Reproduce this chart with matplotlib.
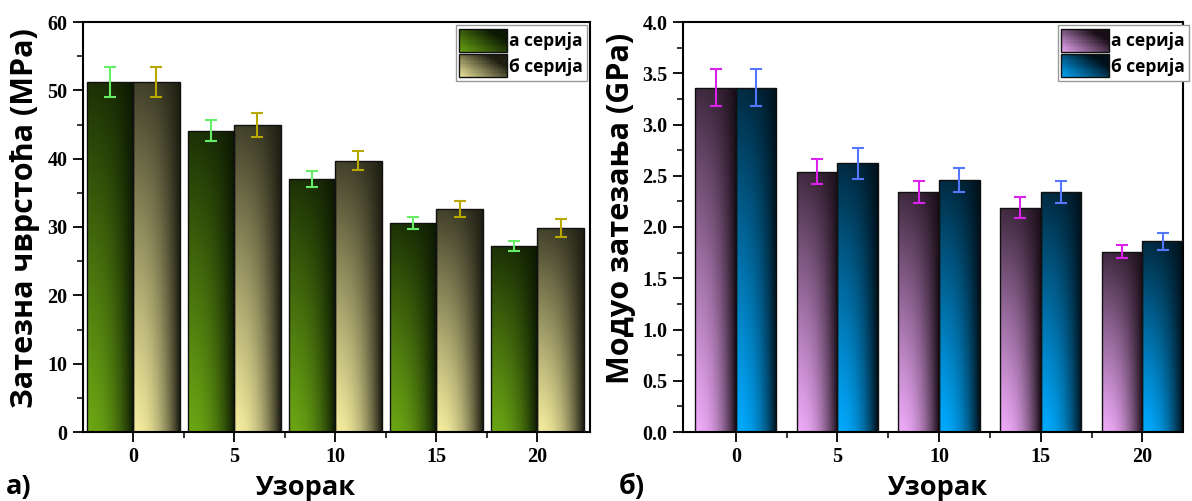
from matplotlib.patches import Rectangle
from matplotlib.legend_handler import HandlerBase
import numpy as np
import matplotlib.pyplot as plt
import matplotlib.colors as mcolors

# ============================================================
# Data
# ============================================================

samples = ["0", "5", "10", "15", "20"]
series_labels = ["а серија", "б серија"]

# a) tensile strength (MPa)
strength_a = [51.2, 44.1, 37.0, 30.6, 27.2]
strength_a_err = [2.2, 1.5, 1.2, 0.9, 0.7]
strength_b = [51.2, 44.9, 39.7, 32.6, 29.8]
strength_b_err = [2.2, 1.8, 1.4, 1.2, 1.3]

# б) tensile modulus (GPa)
modulus_a = [3.36, 2.54, 2.34, 2.19, 1.76]
modulus_a_err = [0.18, 0.12, 0.11, 0.10, 0.06]
modulus_b = [3.36, 2.62, 2.46, 2.34, 1.86]
modulus_b_err = [0.18, 0.15, 0.12, 0.11, 0.08]


# ============================================================
# Style
# ============================================================

plt.rcParams.update({
    "axes.linewidth": 1.5,
    "xtick.major.width": 1.3,
    "ytick.major.width": 1.3,
    "xtick.minor.width": 1.1,
    "ytick.minor.width": 1.1,
})

TICK_FONT = dict(family="Liberation Serif", weight="bold", size=14.5)
XLABEL_FONT = dict(family="Open Sans", weight="bold", size=19.5)
YLABEL_FONT = dict(family="Open Sans", weight="bold", size=22)


def gradient_rgb(light, dark, nx=60, ny=60):
    x = np.linspace(0, 1, nx)[None, :]
    y = np.linspace(0, 1, ny)[:, None]
    L = (1 - x ** 2.2) * (1 - 0.82 * y ** 1.1)
    lt = np.array(mcolors.to_rgb(light))
    dk = np.array(mcolors.to_rgb(dark))
    return dk + L[..., None] * (lt - dk)


def grad_bars(ax, pos, vals, width, light, dark):
    bars = ax.bar(pos, vals, width, align="edge", facecolor="none",
                  edgecolor="#111111", linewidth=1.0, zorder=3)
    img = gradient_rgb(light, dark)
    for b in bars:
        x0, w, h = b.get_x(), b.get_width(), b.get_height()
        im = ax.imshow(img, extent=[x0, x0 + w, 0, h], origin="lower",
                       aspect="auto", interpolation="bilinear", zorder=2)
        im.set_clip_path(b)
    return bars


class GradHandler(HandlerBase):
    def __init__(self, light, dark):
        super().__init__()
        self.light, self.dark = light, dark

    def create_artists(self, legend, orig_handle, xdescent, ydescent,
                       width, height, fontsize, trans):
        arts = []
        nx, ny = 24, 10
        lt = np.array(mcolors.to_rgb(self.light))
        dk = np.array(mcolors.to_rgb(self.dark))
        for i in range(nx):
            for j in range(ny):
                u = (i + 0.5) / nx
                v = (j + 0.5) / ny
                L = np.clip(1 - (0.75 * u + 0.55 * v), 0, 1)
                c = dk + L * (lt - dk)
                arts.append(Rectangle((-xdescent + i * width / nx, -ydescent + j * height / ny),
                                      width / nx + 0.3, height / ny + 0.3,
                                      facecolor=c, edgecolor="none", transform=trans))
        arts.append(Rectangle((-xdescent, -ydescent), width, height, facecolor="none",
                              edgecolor="#111111", linewidth=1.0, transform=trans))
        return arts


def panel(ax, a, a_err, b, b_err, width, cols, ylim, major, minor, xlim, fmt, leg_x):
    x = np.arange(len(samples))
    grad_bars(ax, x - width, a, width, cols[0], cols[1])
    grad_bars(ax, x, b, width, cols[2], cols[3])
    ax.errorbar(x - width / 2, a, yerr=a_err, fmt="none", ecolor=cols[4],
                elinewidth=1.5, capsize=4, capthick=1.5, zorder=4)
    ax.errorbar(x + width / 2, b, yerr=b_err, fmt="none", ecolor=cols[5],
                elinewidth=1.5, capsize=4, capthick=1.5, zorder=4)

    ax.set_xlim(*xlim)
    ax.set_ylim(*ylim)
    ax.set_xticks(x)
    ax.set_xticks(x[:-1] + 0.5, minor=True)
    ax.set_xticklabels(samples, **TICK_FONT)
    yt = np.arange(ylim[0], ylim[1] + major / 2, major)
    ax.set_yticks(yt)
    ax.set_yticks(np.arange(ylim[0], ylim[1], minor), minor=True)
    ax.set_yticklabels([fmt.format(v) for v in yt], **TICK_FONT)
    ax.tick_params(axis="both", which="major", direction="out", length=7, pad=4)
    ax.tick_params(axis="both", which="minor", direction="out", length=4)

    handles = [Rectangle((0, 0), 1, 1), Rectangle((0, 1), 1, 1)]
    leg = ax.legend(handles, series_labels,
                    handler_map={handles[0]: GradHandler(cols[0], cols[1]),
                                 handles[1]: GradHandler(cols[2], cols[3])},
                    loc="upper right", bbox_to_anchor=(leg_x, 1.0),
                    prop=dict(family="Open Sans", weight="bold", size=12.5),
                    handlelength=2.75, handleheight=1.65, handletextpad=0.12,
                    labelspacing=0.15, borderpad=0.2, borderaxespad=0.2,
                    fancybox=False, framealpha=1, edgecolor="#999999")
    leg.get_frame().set_linewidth(1.0)


# ============================================================
# Plot
# ============================================================

fig = plt.figure(figsize=(11.92, 5.01), dpi=100)
ax1 = fig.add_axes([83 / 1192, 1 - 432 / 501, (590 - 83) / 1192, (432 - 22) / 501])
ax2 = fig.add_axes([683 / 1192, 1 - 432 / 501, (1183 - 683) / 1192, (432 - 22) / 501])

panel(ax1, strength_a, strength_a_err, strength_b, strength_b_err, 0.46,
      ["#6ba614", "#0c1802", "#f3ec9e", "#1d1d12", "#66ee66", "#b8a800"],
      (0, 60), 10, 5, (-0.495, 4.52), "{:.0f}", 1.0)
panel(ax2, modulus_a, modulus_a_err, modulus_b, modulus_b_err, 0.40,
      ["#eeaaf8", "#1a0e18", "#00aaff", "#00101a", "#dd22ee", "#5577ff"],
      (0, 4.0), 0.5, 0.25, (-0.52, 4.40), "{:.1f}", 1.018)

fig.text(25 / 1192, 1 - 218 / 501, "Затезна чврстоћа (MPa)", rotation=90,
         ha="center", va="center", **YLABEL_FONT)
fig.text(621 / 1192, 1 - 208 / 501, "Модуо затезања (GPa)", rotation=90,
         ha="center", va="center", **YLABEL_FONT)
fig.text(305 / 1192, 1 - 488 / 501, "Узорак", ha="center", va="center", **XLABEL_FONT)
fig.text(937 / 1192, 1 - 488 / 501, "Узорак", ha="center", va="center", **XLABEL_FONT)
fig.text(6 / 1192, 1 - 487 / 501, "а)", ha="left", va="center", **XLABEL_FONT)
fig.text(619 / 1192, 1 - 487 / 501, "б)", ha="left", va="center", **XLABEL_FONT)

fig.savefig("out.png", dpi=100)
plt.close(fig)
